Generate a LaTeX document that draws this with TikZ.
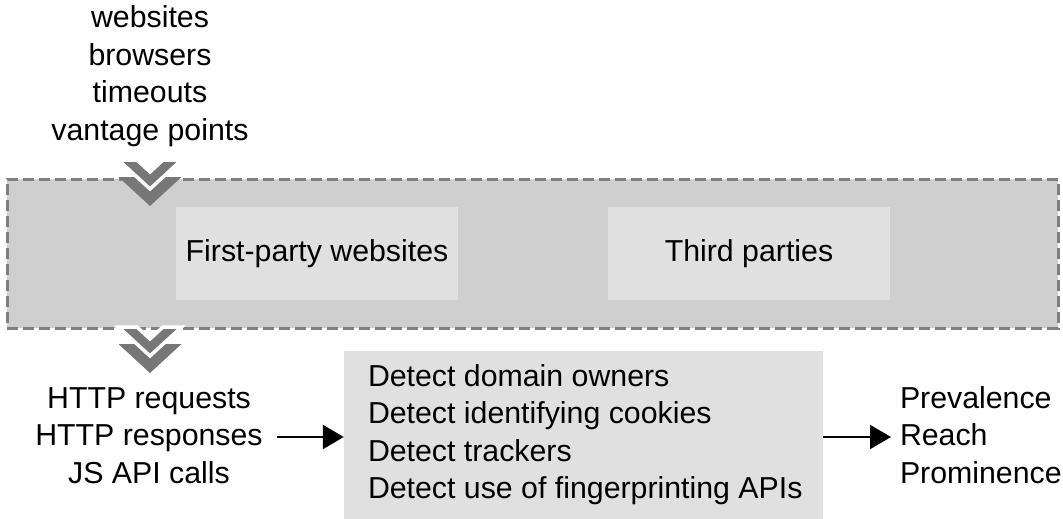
\documentclass[tikz,border=0pt]{standalone}
\usepackage{fontspec}
\setmainfont{Liberation Sans}
\usetikzlibrary{arrows.meta}
\definecolor{bg}{HTML}{FFFFFF}
\definecolor{stagefill}{HTML}{CFCFCF}
\definecolor{stageline}{HTML}{808080}
\definecolor{boxfill}{HTML}{E0E0E0}
\definecolor{chevgray}{HTML}{777777}
\newcommand\mychev[2]{%
  \begin{scope}[shift={(#1,#2)}]
    \path[chevlow] (-31.5,17) -- ++(18.5,0) -- (0,29) -- (13,17) -- (31.5,17) -- (0,46) -- cycle;
    \path[chevup] (-31.5,0) -- ++(18.5,0) -- (0,12) -- (13,0) -- (31.5,0) -- (0,29) -- cycle;
  \end{scope}}
\begin{document}
\begin{tikzpicture}[x=1pt,y=-1pt,
  txt/.style={inner sep=0pt, outer sep=0pt, font=\fontsize{30.3}{37.5}\selectfont, text=black},
  stagebox/.style={draw=stageline, fill=stagefill, line width=3pt, dash pattern=on 11pt off 5pt, inner sep=0pt},
  innerbox/.style={fill=boxfill, inner sep=0pt, minimum width=282pt, minimum height=93pt, font=\fontsize{30.3}{37.5}\selectfont},
  detectbox/.style={fill=boxfill, inner sep=0pt, minimum width=479pt, minimum height=168pt},
  chevlow/.style={fill=chevgray},
  chevup/.style={fill=chevgray, draw=white, line width=3.5pt, line join=miter},
  arr/.style={line width=2pt, -{Triangle[length=21pt,width=24pt]}}]
\useasboundingbox[fill=bg] (0,0) rectangle (1063,519);

% top inputs
\node[txt, anchor=base] (inputs) at (150,28)
  {\begin{tabular}[t]{@{}c@{}}websites\\browsers\\timeouts\\vantage points\end{tabular}};

% stage box
\node[stagebox, minimum width=1051pt, minimum height=149pt] (stage) at (532.5,253.5) {};
\node[innerbox] (first) at (317,253.5) {First-party websites};
\node[innerbox] (third) at (749,253.5) {Third parties};

% chevrons
\mychev{150}{160}
\mychev{150}{327}

% outputs of stage
\node[txt, anchor=base] (data) at (149,408)
  {\begin{tabular}[t]{@{}c@{}}HTTP requests\\HTTP responses\\JS API calls\end{tabular}};

% detect box
\node[detectbox] (detect) at (583.5,435) {};
\node[txt, anchor=base west] (detecttext) at (368,386)
  {\begin{tabular}[t]{@{}l@{}}Detect domain owners\\Detect identifying cookies\\Detect trackers\\Detect use of fingerprinting APIs\end{tabular}};

% results
\node[txt, anchor=base west] (results) at (900,408)
  {\begin{tabular}[t]{@{}l@{}}Prevalence\\Reach\\Prominence\end{tabular}};

% arrows
\coordinate (a1) at (277,437);
\coordinate (a2) at (891,437);
\draw[arr] (a1) -- (a1 -| detect.west);
\draw[arr] (detect.east |- a2) -- (a2);
\end{tikzpicture}
\end{document}
